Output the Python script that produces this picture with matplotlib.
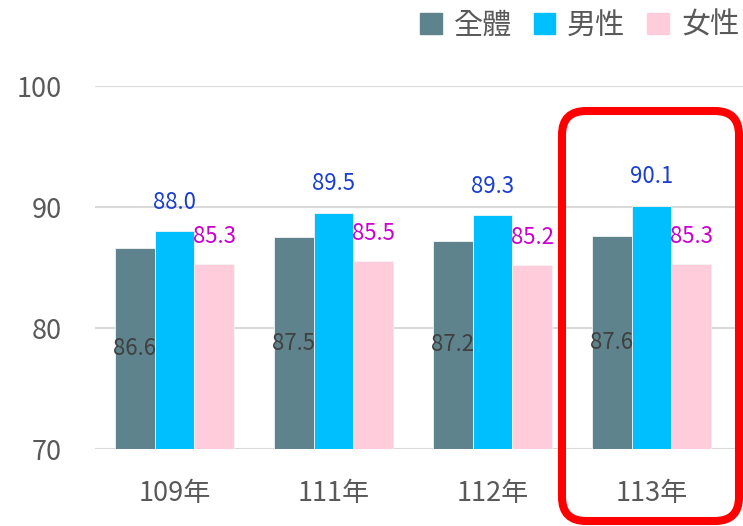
import numpy as np
import matplotlib
matplotlib.use("Agg")
import matplotlib.pyplot as plt
from matplotlib.patches import FancyBboxPatch, Patch
from matplotlib.transforms import IdentityTransform

plt.rcParams['font.family'] = ['Noto Sans CJK TC', 'DejaVu Sans']

# data
years = ['109年', '111年', '112年', '113年']
series_names = ['全體', '男性', '女性']
total = [86.6, 87.5, 87.2, 87.6]
male = [88.0, 89.5, 89.3, 90.1]
female = [85.3, 85.5, 85.2, 85.3]

bar_colors = ['#5E838C', '#00BFFF', '#FFCCDC']
label_colors = ['#404040', '#1A3FD0', '#CC00CC']

fig = plt.figure(figsize=(7.43, 5.26), dpi=100)
ax = fig.add_axes([95 / 743, 1 - 449 / 526, 1 - 95 / 743, (449 - 86) / 526])

x = np.arange(len(years))
w = 0.25
for i, vals in enumerate([total, male, female]):
    ax.bar(x + (i - 1) * w, np.array(vals) - 70, w, bottom=70,
           color=bar_colors[i], edgecolor='#f4f4f4', linewidth=0.6,
           zorder=3)

# data labels
for j in range(len(years)):
    ax.text(x[j] - w, (70 + total[j]) / 2, f'{total[j]:.1f}', ha='center',
            va='center', fontsize=16, color=label_colors[0], zorder=4)
    ax.annotate(f'{male[j]:.1f}', (x[j], male[j]), xytext=(0, 21),
                textcoords='offset points', ha='center', va='center',
                fontsize=16, color=label_colors[1], zorder=4)
    ax.annotate(f'{female[j]:.1f}', (x[j] + w, female[j]), xytext=(0, 20),
                textcoords='offset points', ha='center', va='center',
                fontsize=16, color=label_colors[2], zorder=4)

ax.set_ylim(70, 100)
ax.set_xlim(-0.5, 3.575)
ax.set_yticks([70, 80, 90, 100])
ax.set_xticks(x)
ax.set_xticklabels(years)
ax.yaxis.grid(True, color='#d9d9d9', linewidth=1.5, zorder=0)
ax.set_axisbelow(True)
for s in ax.spines.values():
    s.set_visible(False)
ax.tick_params(axis='both', length=0, labelsize=19.5, colors='#595959')
ax.tick_params(axis='y', pad=24)
ax.tick_params(axis='x', pad=22)

handles = [Patch(color=c) for c in bar_colors]
fig.legend(handles, series_names, loc='upper right', ncol=3, frameon=False,
           bbox_to_anchor=(1.03, 1.03), fontsize=21, handlelength=0.75,
           handleheight=0.75, handletextpad=0.4, columnspacing=0.75,
           labelcolor='#595959')

# red highlight box around 113年
box = FancyBboxPatch((562, 526 - 521), 177, 410,
                     boxstyle='round,pad=0,rounding_size=24',
                     transform=IdentityTransform(), fill=False,
                     edgecolor='#FF0000', linewidth=5.8, zorder=10)
fig.patches.append(box)

fig.savefig('out.png', dpi=100)
